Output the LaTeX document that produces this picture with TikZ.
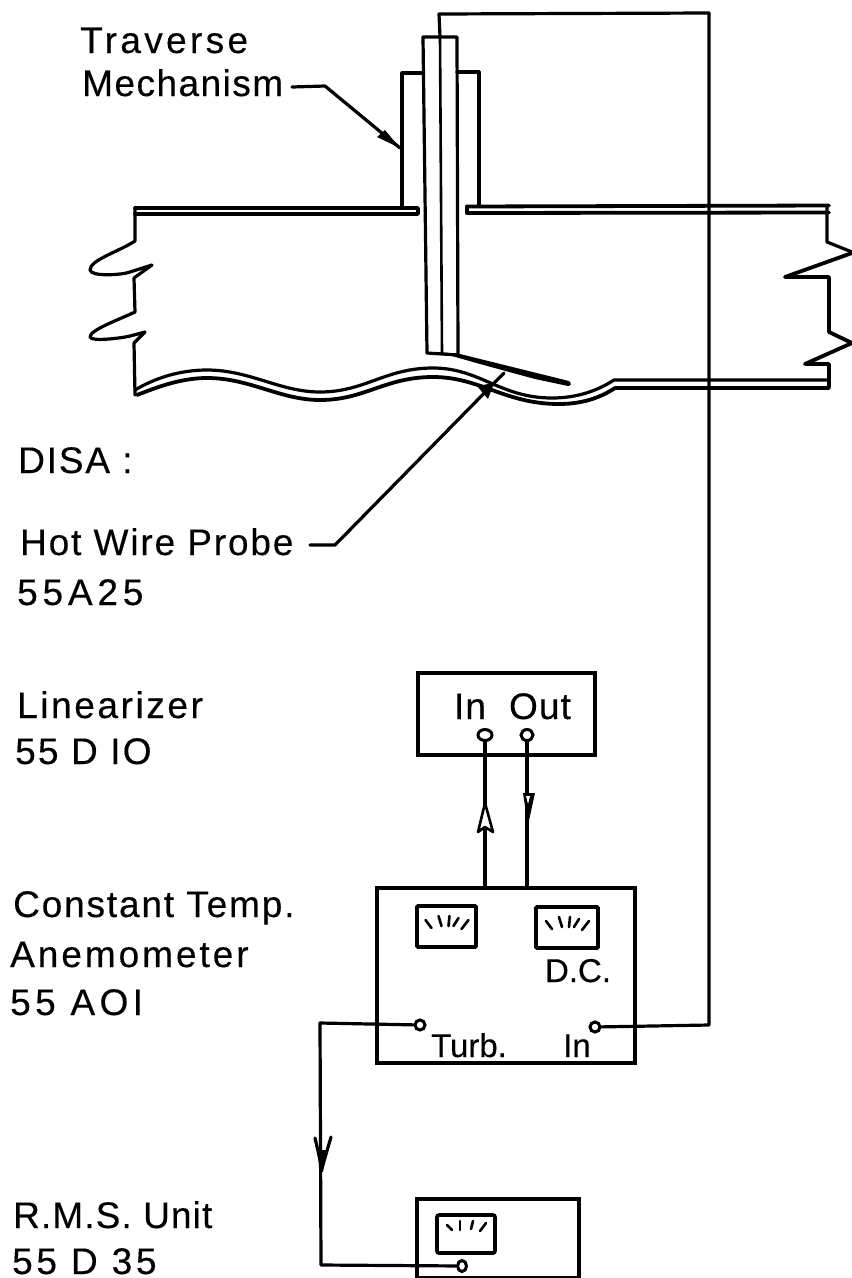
\documentclass[tikz,border=0pt]{standalone}
\usepackage{fontspec}
\setmainfont[FakeBold=0.3]{Liberation Sans}
\newcommand\ls[1]{\addfontfeature{LetterSpace=#1}}
\usetikzlibrary{shapes.geometric}
\tikzset{
  x=1pt,y=-1pt,
  ink/.style={line width=3.2pt,black,line join=round,line cap=round},
  thin ink/.style={line width=2.6pt,black,line join=round,line cap=round},
  heavy/.style={line width=3.8pt,black,line join=round,line cap=round},
  lab/.style={anchor=base west,inner sep=0pt,font=\fontsize{37}{37}\selectfont},
  inlab/.style={anchor=base,inner sep=0pt,font=\fontsize{37}{37}\selectfont},
  smlab/.style={anchor=base,inner sep=0pt,font=\fontsize{33}{33}\selectfont},
  cabinet/.style={draw,rectangle,line width=3.6pt,inner sep=0pt},
  meterbox/.style={draw,rectangle,line width=3.6pt,inner sep=0pt,rounded corners=1pt},
  term/.style={draw,ellipse,line width=3pt,fill=white,inner sep=0pt,minimum width=14pt,minimum height=11pt},
}
\begin{document}
\begin{tikzpicture}
\useasboundingbox (0,0) rectangle (852,1278);
% labels
\node[lab] (ltrav) at (80,53) {\ls{9}Traverse};
\node[lab] (lmech) at (82,96) {\ls{4}Mechanism};
\node[lab] (ldisa) at (18,473) {\ls{5}DISA :};
\node[lab] (lhot) at (20,555) {\ls{5}Hot Wire Probe};
\node[lab] (l55a) at (17,605) {\ls{13}55A25};
\node[lab] (llin) at (17,718) {\ls{7}Linearizer};
\node[lab] (l55d) at (15,764) {\ls{6}55 D IO};
\node[lab] (lcon) at (13,917) {\ls{5}Constant Temp.};
\node[lab] (lane) at (10,967) {\ls{8}Anemometer};
\node[lab] (l55ao) at (10,1015) {\ls{12}55 AOI};
\node[lab] (lrms) at (13,1228) {\ls{3}R.M.S. Unit};
\node[lab] (l55d3) at (12,1274) {\ls{10}55 D 35};
% duct
\draw[heavy] (135,208) -- (418,208) -- (418,214) -- (135,214);
\draw[heavy] (467,206.5) -- (829,205.5);
\draw[heavy] (467,213) -- (829,212.5);
\draw[heavy] (467,206.5) -- (467,213);
\draw[ink] (135,208) -- (135,241) .. controls (118,252) and (90,260) .. (90,270)
  .. controls (91,277) and (122,275) .. (130,272) -- (152,265) -- (134,278)
  -- (135,312) .. controls (118,320) and (90,330) .. (90,337)
  .. controls (91,342) and (122,338) .. (130,336) -- (145,332) -- (134,343)
  -- (135,395);
\draw[ink] (827,206) -- (827,242) -- (852,252);
\draw[heavy] (852,253) -- (785,277) -- (829,277) -- (829,332) -- (852,343)
  -- (805,364) -- (829,364) -- (829,387);
% wavy floor
\draw[ink] (135,390) .. controls (155,378) and (180,370) .. (207,370)
  .. controls (250,370) and (280,392) .. (320,392)
  .. controls (365,392) and (385,368) .. (433,368)
  .. controls (480,368) and (500,398) .. (552,398)
  .. controls (580,398) and (600,389) .. (614,380) -- (829,380);
\draw[heavy] (137,395) .. controls (155,388) and (180,378) .. (207,378)
  .. controls (250,378) and (280,400) .. (320,400)
  .. controls (365,400) and (385,377) .. (433,377)
  .. controls (480,377) and (505,404) .. (559,404)
  .. controls (585,404) and (603,396) .. (615,388) -- (829,388);
% traverse body and tube
\draw[ink] (402,207) -- (402,73) -- (423,73);
\draw[ink] (457,72) -- (479,72) -- (479,206);
\draw[ink] (427,353) -- (423,37) -- (457,37) -- (458,355);
\draw[thin ink] (440,37) -- (442,353);
\draw[ink] (427,353) -- (458,355);
\fill[black] (438,352) -- (460,354) -- (569,381) .. controls (572,383) and (571,386) .. (568,386) -- (535,379) -- (480,364) -- cycle;
% nodes
\coordinate (tubetop) at (440,37);
\coordinate (mechtip) at (400,148);
\coordinate (wiretip) at (504,373);
\node[cabinet,minimum width=177pt,minimum height=82pt] (lin) at (506.5,714) {};
\node[cabinet,minimum width=258pt,minimum height=175pt] (ane) at (506,975.5) {};
\node[cabinet,minimum width=162pt,minimum height=79pt,anchor=north west] (rms) at (415,1197) {};
\node[term] (tin) at (485,735) {};
\node[term,minimum width=12pt] (tout) at (527,735) {};
\node[term,minimum width=10pt,minimum height=10pt] (tturb) at (420,1025) {};
\node[term,minimum width=10pt,minimum height=10pt] (tain) at (595,1027) {};
\node[term,minimum width=9pt,minimum height=11pt] (trms) at (462,1266) {};
\node[inlab] (tI) at (470,719) {\ls{3}In};
\node[inlab] (tO) at (540,719) {\ls{3}Out};
\node[smlab] (tDC) at (578,982) {D.C.};
\node[smlab] (tTurb) at (469,1057) {Turb.};
\node[smlab] (tIn2) at (577,1057) {In};
\node[meterbox,minimum width=59pt,minimum height=41pt] (m1) at (446.5,926.5) {};
\node[meterbox,minimum width=62pt,minimum height=41pt] (m2) at (567,927.5) {};
\node[meterbox,minimum width=58pt,minimum height=38pt,rounded corners=2pt] (m3) at (466,1234) {};
% meter ticks
\foreach \cx/\cy in {446.5/926, 567/927}{
  \foreach \dx/\dy/\ex/\ey in {-21/-6/-15/2, -8/-10/-5/0, 3/-10/2/0, 12/-8/7/0, 22/-6/15/3}{
    \draw[thin ink] (\cx+\dx,\cy+\dy) -- (\cx+\ex,\cy+\ey);
  }
}
\foreach \dx/\dy/\ex/\ey in {-19/-8/-14/-3, -6/-12/-6/-3, 7/-12/5/-4, 20/-10/14/-2}{
  \draw[thin ink] (466+\dx,1233+\dy) -- (466+\ex,1233+\ey);
}
% connectors
\coordinate (wtopR) at (709,13);
\coordinate (wtopL) at (439,14);
\coordinate (wbot) at (709,1025);
\draw[ink] (tain) -- (wbot) -- (wtopR) -- (wtopL) -- (tubetop);
\draw[ink] (tin) -- (tin |- ane.north);
\draw[ink] (tout) -- (tout |- ane.north);
\coordinate (wcorner) at (320,1023);
\coordinate (wcorner2) at (321,1265);
\draw[ink] (tturb) -- (wcorner) -- (wcorner2) -- (trms);
% leaders
\coordinate (mecha) at (292,87);
\coordinate (mechb) at (325,86);
\draw[ink] (mecha) -- (mechb) -- (mechtip);
\fill[black] (mechtip) -- (385,130) -- (377,137) -- cycle;
\coordinate (hota) at (310,545);
\coordinate (hotb) at (335,545);
\draw[ink] (hota) -- (hotb) -- (wiretip);
\fill[black] (494,383) -- (477,386) -- (488,399) -- cycle;
% arrowheads on wires
\draw[thin ink,fill=white] (485,803) -- (478,832) -- (485,827) -- (493,832) -- cycle;
\fill[black] (523,793) -- (535,793) -- (528,825) -- cycle;
\fill[white] (526,796) -- (530,796) -- (528,804) -- cycle;
\draw[ink] (315,1138) -- (322,1168) -- (331,1137);
\fill[black] (317,1150) -- (327,1150) -- (323,1172) -- (320,1172) -- cycle;
\end{tikzpicture}
\end{document}
